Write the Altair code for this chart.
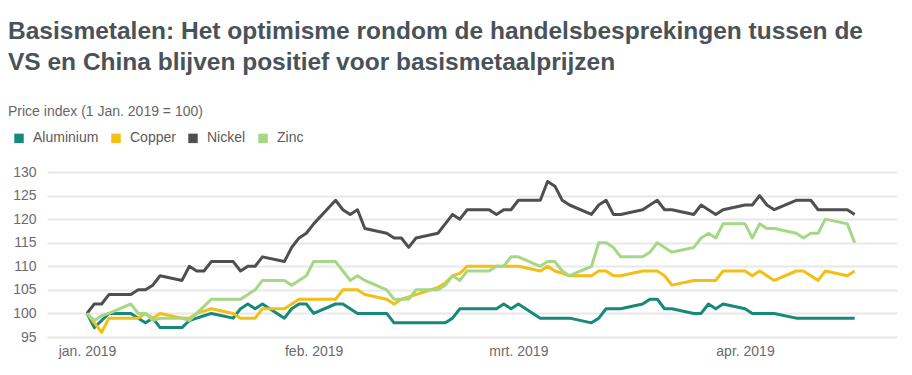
import altair as alt
import pandas as pd

# ---- data ----
jan_days = [1, 2, 3, 4, 7, 8, 9, 10, 11, 14, 15, 16, 17, 18, 21, 22, 23, 24, 25, 28, 29, 30, 31]
feb_days = [1, 4, 5, 6, 7, 8, 11, 12, 13, 14, 15, 18, 19, 20, 21, 22, 25, 26, 27, 28]
mar_days = [1, 4, 5, 6, 7, 8, 11, 12, 13, 14, 15, 18, 19, 20, 21, 22, 25, 26, 27, 28, 29]
apr_days = [1, 2, 3, 4, 5, 8, 9, 10, 11, 12, 15, 16]

aluminium = [
    100, 97, 98.5, 100, 100, 99, 98, 99, 97, 97, 98.5, 99, 99.5, 100, 99, 101, 102, 101, 102, 99, 101, 102, 102,
    100, 102, 102, 101, 100, 100, 100, 98, 98, 98, 98, 98, 98, 99, 101, 101, 101, 101, 102, 101,
    102, 99, 99, 99, 99, 99, 98, 99, 101, 101, 101, 102, 103, 103, 101, 101, 100, 100, 102, 101, 102,
    101, 100, 100, 100, 100, 99, 99, 99, 99, 99, 99, 99,
]
copper = [
    100, 98, 96, 99, 99, 99, 100, 99, 100, 99, 99, 100, 100.5, 101, 100, 99, 99, 99, 101, 101, 102, 103, 103,
    103, 103, 105, 105, 105, 104, 103, 102, 103, 103.5, 104, 105.5, 106.5, 108, 108.5, 110, 110, 110, 110, 110,
    110, 109, 110, 109, 108.5, 108, 108, 109, 109, 108, 108, 109, 109, 109, 108, 106, 107, 107, 107, 107, 109,
    109, 108, 109, 108, 107, 109, 109, 108, 107, 109, 108, 109,
]
nickel = [
    100, 102, 102, 104, 104, 105, 105, 106, 108, 107, 110, 109, 109, 111, 111, 109, 110, 110, 112, 111, 114, 116, 117,
    119, 124, 122, 121, 122, 118, 117, 116, 116, 114, 116, 117, 119, 121, 120, 122, 122, 121, 122, 122,
    124, 124, 128, 127, 124, 123, 121, 123, 124, 121, 121, 122, 123, 124, 122, 122, 121, 123, 122, 121, 122,
    123, 123, 125, 123, 122, 124, 124, 124, 122, 122, 122, 121,
]
zinc = [
    100, 98.5, 99.5, 100, 102, 100, 100, 98.5, 99, 99, 98.5, 100, 101.5, 103, 103, 103, 104, 105, 107, 107, 106, 107, 108,
    111, 111, 109, 107, 108, 107, 105, 103, 103, 103, 105, 105, 106, 108, 107, 109, 109, 110, 110, 112,
    112, 110, 111, 111, 109, 108, 110, 115, 115, 114, 112, 112, 113, 115, 114, 113, 114, 116, 117, 116, 119,
    119, 116, 119, 118, 118, 117, 116, 117, 117, 120, 119, 115,
]

metals = ["Aluminium", "Copper", "Nickel", "Zinc"]
colors = ["#16897a", "#f2bf14", "#4f4f4f", "#a6d785"]
month_labels = ["jan.", "feb.", "mrt.", "apr."]
y_ticks = [95, 100, 105, 110, 115, 120, 125, 130]

title_lines = [
    "Basismetalen: Het optimisme rondom de handelsbesprekingen tussen de",
    "VS en China blijven positief voor basismetaalprijzen",
]
subtitle = "Price index (1 Jan. 2019 = 100)"

# ---- table ----
dates = (
    [f"2019-01-{d:02d}T00:00:00" for d in jan_days]
    + [f"2019-02-{d:02d}T00:00:00" for d in feb_days]
    + [f"2019-03-{d:02d}T00:00:00" for d in mar_days]
    + [f"2019-04-{d:02d}T00:00:00" for d in apr_days]
)
series = {"Aluminium": aluminium, "Copper": copper, "Nickel": nickel, "Zinc": zinc}
rows = []
for name, vals in series.items():
    for d, v in zip(dates, vals):
        rows.append({"date": d, "metal": name, "value": v})
df = pd.DataFrame(rows)

FONT = "Liberation Sans"
month_expr = "[" + ",".join(f"'{m}'" for m in month_labels) + "][month(datum.value)] + ' ' + year(datum.value)"

chart = (
    alt.Chart(df)
    .mark_line(strokeJoin="round")
    .encode(
        x=alt.X(
            "date:T",
            scale=alt.Scale(
                domain=[
                    alt.DateTime(year=2018, month=12, date=26, hours=12, minutes=42),
                    alt.DateTime(year=2019, month=4, date=21, hours=19),
                ]
            ),
            axis=alt.Axis(
                title=None,
                values=[alt.DateTime(year=2019, month=m, date=1) for m in [1, 2, 3, 4]],
                labelExpr=month_expr,
                grid=False,
                domain=False,
                ticks=False,
                labelPadding=7,
                labelFont=FONT,
                labelFontSize=14,
                labelColor="#6b6b6b",
            ),
        ),
        y=alt.Y(
            "value:Q",
            scale=alt.Scale(domain=[95, 130], nice=False, zero=False),
            axis=alt.Axis(
                title=None,
                values=y_ticks,
                grid=True,
                gridColor="#e8e8e8",
                gridWidth=2,
                domain=False,
                ticks=False,
                labelPadding=11,
                labelFont=FONT,
                labelFontSize=14,
                labelColor="#6b6b6b",
            ),
        ),
        strokeWidth=alt.value(3),
        color=alt.Color(
            "metal:N",
            scale=alt.Scale(domain=metals, range=colors),
            legend=alt.Legend(
                title=None,
                orient="none",
                legendX=-35,
                legendY=-41,
                direction="horizontal",
                symbolType="square",
                symbolSize=20,
                symbolStrokeWidth=5,
                symbolOpacity=1,
                labelFont=FONT,
                labelFontSize=14,
                labelColor="#5a5a5a",
                labelOffset=7,
                columnPadding=4,
            ),
        ),
    )
    .properties(
        width=850,
        height=165,
        autosize=alt.AutoSizeParams(type="none"),
        padding={"left": 47, "top": 172, "right": 15, "bottom": 38},
        title=alt.TitleParams(
            text=title_lines,
            subtitle=subtitle,
            anchor="start",
            frame="group",
            dx=-39,
            font=FONT,
            fontSize=24.5,
            fontWeight="bold",
            color="#4a5259",
            lineHeight=31,
            subtitleFont=FONT,
            subtitleFontSize=14,
            subtitleColor="#666666",
            subtitlePadding=30,
            offset=11,
        ),
    )
    .configure_view(stroke=None)
)

chart.save("out.html", embed_options={"renderer": "svg", "actions": False})
